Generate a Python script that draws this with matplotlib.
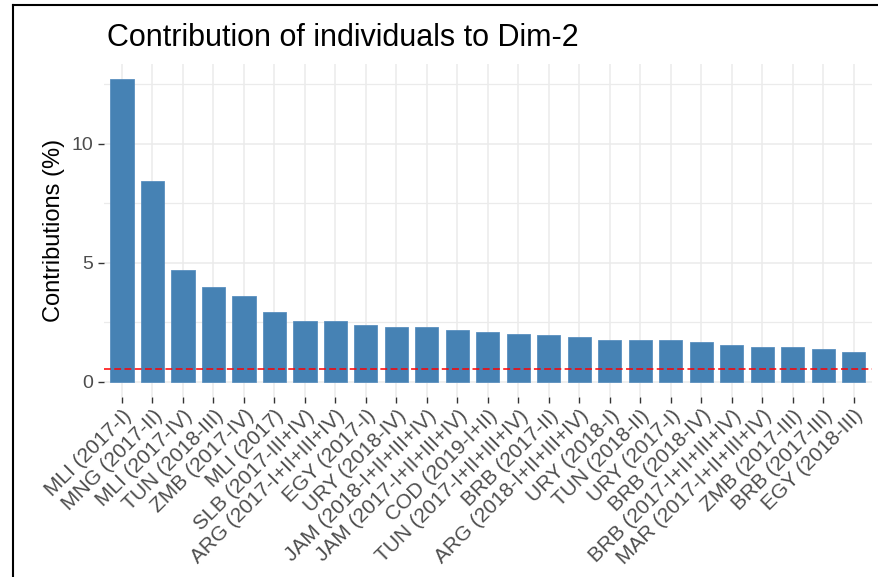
import matplotlib
matplotlib.use("Agg")
import matplotlib.pyplot as plt
from matplotlib.lines import Line2D
from matplotlib.transforms import ScaledTranslation
import numpy as np

labels = ["MLI (2017-I)", "MNG (2017-II)", "MLI (2017-IV)", "TUN (2018-III)",
          "ZMB (2017-IV)", "MLI (2017)", "SLB (2017-III+IV)", "ARG (2017-I+II+III+IV)",
          "EGY (2017-I)", "URY (2018-IV)", "JAM (2018-I+II+III+IV)", "JAM (2017-I+II+III+IV)",
          "COD (2019-I+II)", "TUN (2017-I+II+III+IV)", "BRB (2017-II)", "ARG (2018-I+II+III+IV)",
          "URY (2018-I)", "TUN (2018-II)", "URY (2017-I)", "BRB (2018-IV)",
          "BRB (2017-I+II+III+IV)", "MAR (2017-I+II+III+IV)", "ZMB (2017-III)", "BRB (2017-III)",
          "EGY (2018-III)"]
contrib = [12.72, 8.44, 4.70, 3.97, 3.62, 2.95, 2.54, 2.54, 2.40, 2.31, 2.31, 2.18,
           2.10, 2.03, 1.95, 1.88, 1.74, 1.74, 1.74, 1.67, 1.53, 1.46, 1.46, 1.39, 1.26]
expected = 0.56
yticks = [0, 5, 10]
title = "Contribution of individuals to Dim-2"
ylabel = "Contributions (%)"

plt.rcParams['font.family'] = ['Liberation Sans', 'DejaVu Sans']

fig = plt.figure(figsize=(8.79, 5.77), dpi=100)
ax = fig.add_axes([103.7/879, 1-397/577, (872-103.7)/879, (397-64)/577])

x = np.arange(len(labels))
ax.bar(x, contrib, width=0.76, color="#4682B4", edgecolor="#5a8fbf", linewidth=0.6, zorder=3)
ax.axhline(expected, color="red", linestyle=(0, (4.5, 2.2)), linewidth=1.1, zorder=4)

ax.set_xlim(-0.6, len(labels) - 1 + 0.6)
ymax = max(contrib)
ax.set_ylim(-0.05*ymax, ymax*1.05)

ax.set_yticks(yticks)
ax.set_yticks([2.5, 7.5, 12.5], minor=True)
ax.set_xticks(x)
ax.set_xticklabels(labels, rotation=45, ha="right", va="top", rotation_mode="anchor")
off = ScaledTranslation(6/100, -5/100, fig.dpi_scale_trans)
for lab in ax.get_xticklabels():
    lab.set_transform(lab.get_transform() + off)
    lab.set_fontsize(15)

for s in ax.spines.values():
    s.set_visible(False)
ax.set_facecolor("white")
ax.grid(True, which="major", color="#EBEBEB", linewidth=1.1, zorder=0)
ax.grid(True, which="minor", axis="y", color="#EBEBEB", linewidth=0.9, zorder=0)
ax.set_axisbelow(True)

ax.tick_params(axis="both", which="major", length=4.5, width=1.0, color="#333333",
               labelcolor="#4D4D4D", pad=3)
ax.tick_params(axis="y", labelsize=14)
ax.tick_params(axis="y", which="minor", length=0)
ax.tick_params(axis="x", pad=2)

ax.set_ylabel(ylabel, fontsize=17, color="black", labelpad=5)
fig.text(107/879, 1-38/577, title, fontsize=22, color="black", ha="left", va="center")

# screenshot frame lines
fig.add_artist(Line2D([13/879, 13/879], [0, 1-5/577], color="black", linewidth=1.5, transform=fig.transFigure))
fig.add_artist(Line2D([13/879, 1], [1-5/577, 1-5/577], color="black", linewidth=1.5, transform=fig.transFigure))

fig.savefig("out.png", dpi=100, facecolor="white")
